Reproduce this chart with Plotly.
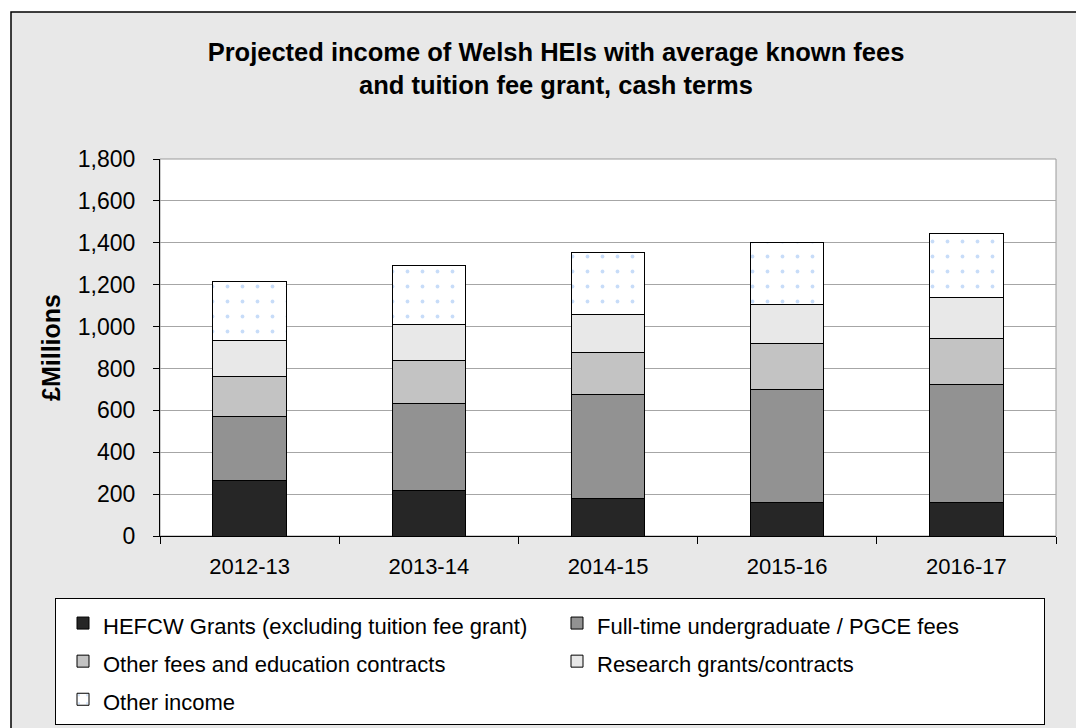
import plotly.graph_objects as go

# ---- data (£ millions) ----
years = ["2012-13", "2013-14", "2014-15", "2015-16", "2016-17"]
hefcw_grants = [264, 217, 177, 159, 159]
ft_ug_pgce_fees = [306, 417, 497, 542, 564]
other_fees = [193, 202, 202, 219, 220]
research = [170, 172, 181, 184, 194]
other_income = [282, 282, 297, 299, 306]

series_names = [
    "HEFCW Grants (excluding tuition fee grant)",
    "Full-time undergraduate / PGCE fees",
    "Other fees and education contracts",
    "Research grants/contracts",
    "Other income",
]
series_values = [hefcw_grants, ft_ug_pgce_fees, other_fees, research, other_income]
series_colors = ["#262626", "#929292", "#c3c3c3", "#e8e8e8", "#ffffff"]

y_ticks = list(range(0, 2000, 200))

FONT = "Liberation Sans, Arial, Helvetica, sans-serif"

# the page puts the figure 8px in from the top-left corner
OFF = 8
W, H = 1084 - OFF, 728 - OFF
L, R, T, B = 160 - OFF, 1056 - OFF, 159 - OFF, 536 - OFF   # plot area (figure px)
pw, ph = R - L, B - T


def px_x(x):
    return (x - OFF - L) / pw


def px_y(y):
    return (B - (y - OFF)) / ph


fig = go.Figure()
for name, vals, col in zip(series_names, series_values, series_colors):
    marker = dict(color=col, line=dict(color="#000000", width=1))
    if name == "Other income":
        marker["pattern"] = dict(shape=".", fgcolor="#8fb9f2", bgcolor="#ffffff",
                                 size=15, solidity=0.05, fillmode="overlay")
    fig.add_trace(go.Bar(
        x=years, y=vals,
        name='<span style="font-size:22px">' + name + "</span>",
        marker=marker,
    ))

shapes = [
    # outer chart frame
    dict(type="rect", xref="paper", yref="paper", layer="below",
         x0=px_x(11), x1=px_x(1120), y0=px_y(780), y1=px_y(12),
         fillcolor="#e8e8e8", line=dict(color="#000000", width=1.5)),
    # white plot area
    dict(type="rect", xref="paper", yref="paper", layer="below",
         x0=0, x1=1, y0=0, y1=1,
         fillcolor="#ffffff", line=dict(color="#9a9a9a", width=1)),
]

fig.update_layout(
    width=W, height=H,
    margin=dict(l=L, r=W - R, t=T, b=H - B, pad=0, autoexpand=False),
    paper_bgcolor="#ffffff",
    plot_bgcolor="#ffffff",
    barmode="stack",
    bargap=0.59,
    font=dict(family=FONT, color="#000000"),
    shapes=shapes,
    showlegend=True,
    title=dict(
        text="Projected income of Welsh HEIs with average known fees<br>and tuition fee grant, cash terms",
        font=dict(family=FONT, size=25.5, color="#000000", weight="bold"),
        x=548 / W, xref="container", xanchor="center",
        y=1 - 53 / H, yref="container", yanchor="top",
    ),
    xaxis=dict(
        type="category",
        tickson="boundaries",
        ticks="outside", ticklen=7, tickcolor="#000000", tickwidth=1,
        showline=True, linecolor="#000000", linewidth=1,
        showgrid=False,
        tickfont=dict(family=FONT, size=22, color="#000000"),
        ticklabelstandoff=11,
    ),
    yaxis=dict(
        range=[0, 1800],
        tickvals=y_ticks,
        tickformat=",d",
        ticks="outside", ticklen=6, tickcolor="#000000", tickwidth=1,
        showline=True, linecolor="#000000", linewidth=1,
        showgrid=True, gridcolor="#a6a6a6", gridwidth=1,
        zeroline=False,
        tickfont=dict(family=FONT, size=23, color="#000000"),
        ticklabelstandoff=13,
        title=dict(text="£Millions",
                   font=dict(family=FONT, size=25, color="#000000", weight="bold"),
                   standoff=10),
    ),
    legend=dict(
        orientation="h",
        x=px_x(55), xanchor="left",
        y=px_y(598), yanchor="top",
        bgcolor="#ffffff", bordercolor="#000000", borderwidth=1,
        indentation=7,
        entrywidth=442, entrywidthmode="pixels",
        traceorder="normal",
        font=dict(family=FONT, size=27, color="#000000"),
    ),
)

fig.write_html("out.html")
